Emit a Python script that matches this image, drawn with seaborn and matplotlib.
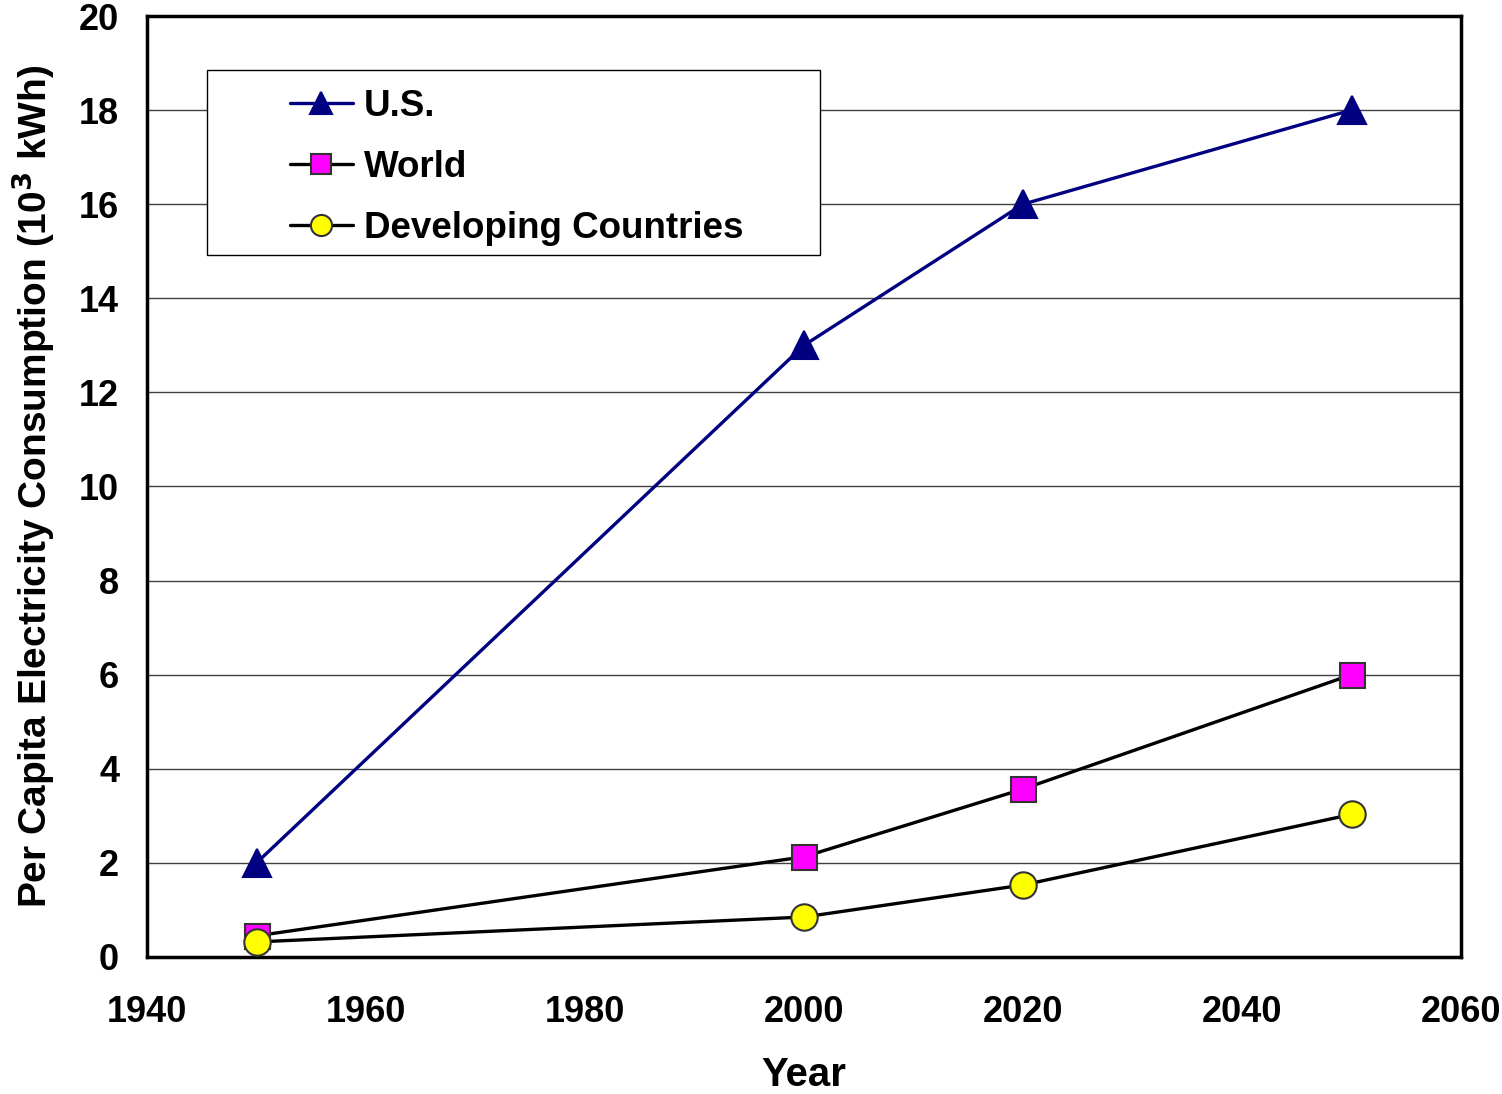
import pandas as pd
import numpy as np
import seaborn as sns
import matplotlib.pyplot as plt
from matplotlib.patches import Rectangle

years = [1950, 2000, 2020, 2050]
us = [2.0, 13.0, 16.0, 18.0]
world = [0.45, 2.13, 3.57, 6.0]
developing = [0.32, 0.85, 1.53, 3.03]
series_names = ['U.S.', 'World', 'Developing Countries']

df = pd.DataFrame({
    'Year': years * 3,
    'Value': us + world + developing,
    'Series': np.repeat(series_names, len(years)),
})

sns.set_style('white')
plt.rcParams['font.family'] = ['Liberation Sans', 'DejaVu Sans']
plt.rcParams['font.weight'] = 'bold'
plt.rcParams['text.color'] = 'black'
plt.rcParams['axes.labelcolor'] = 'black'
plt.rcParams['xtick.color'] = 'black'
plt.rcParams['ytick.color'] = 'black'

W, H = 1502, 1094
fig = plt.figure(figsize=(W / 100, H / 100), dpi=100)
ax = fig.add_axes([147 / W, 1 - 957 / H, (1461 - 147) / W, (957 - 16) / H])

styles = {
    'U.S.': dict(color='#000080', marker='^', mfc='#000080', mec='#000080', ms=20),
    'World': dict(color='black', marker='s', mfc='#FF00FF', mec='#333333', ms=18),
    'Developing Countries': dict(color='black', marker='o', mfc='#FFFF00', mec='#333333', ms=19),
}
for name in series_names:
    st = styles[name]
    sns.lineplot(data=df[df['Series'] == name], x='Year', y='Value', ax=ax,
                 color=st['color'], marker=st['marker'], markersize=st['ms'],
                 markerfacecolor=st['mfc'], markeredgecolor=st['mec'],
                 markeredgewidth=1.5, linewidth=2.4, label=name, zorder=3)

ax.set_xlim(1940, 2060)
ax.set_ylim(0, 20)
ax.set_xticks(range(1940, 2061, 20))
ax.set_yticks(range(0, 21, 2))
ax.yaxis.grid(True, color='#404040', linewidth=1)
ax.set_axisbelow(True)
for s in ax.spines.values():
    s.set_color('black')
    s.set_linewidth(2.5)
ax.tick_params(axis='both', direction='out', length=8, width=1.5, labelsize=26)
ax.tick_params(axis='x', pad=19)
ax.tick_params(axis='y', pad=12)
for lab in ax.get_xticklabels() + ax.get_yticklabels():
    lab.set_fontweight('bold')

ax.set_xlabel('Year', fontsize=29, fontweight='bold', labelpad=19)
ax.set_ylabel('Per Capita Electricity Consumption (10$^\\mathbf{3}$ kWh)',
              fontsize=28, fontweight='bold', labelpad=16)

# legend frame drawn separately so the entries can sit with a wide left margin
box = Rectangle((207 / W, 1 - 255 / H), (820 - 207) / W, (255 - 70) / H,
                transform=fig.transFigure, facecolor='white', edgecolor='black',
                linewidth=1, zorder=4)
ax.add_patch(box)
leg = ax.legend(loc='upper left', bbox_to_anchor=(290 / W, 1 - 89 / H),
                bbox_transform=fig.transFigure, frameon=False, fontsize=26.5,
                handlelength=1.7, markerscale=0.8, labelspacing=0.7,
                handletextpad=0.3, borderpad=0, borderaxespad=0)
leg.set_zorder(5)
for t in leg.get_texts():
    t.set_fontweight('bold')

fig.savefig('out.png', dpi=100)
